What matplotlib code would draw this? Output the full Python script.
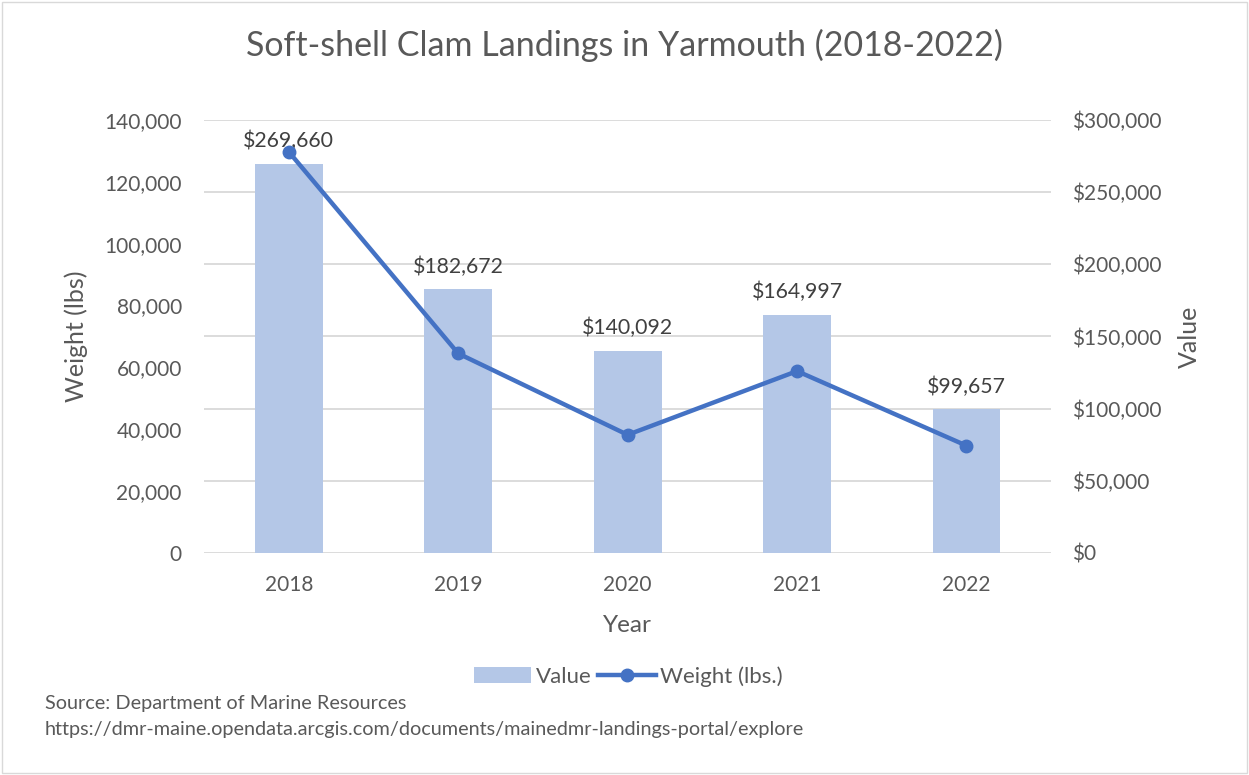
import numpy as np
import matplotlib.pyplot as plt
from matplotlib.patches import Rectangle
from matplotlib.ticker import FuncFormatter

# Data
years = ['2018', '2019', '2020', '2021', '2022']
value_usd = [269660, 182672, 140092, 164997, 99657]
weight_lbs = [129700, 64500, 38200, 58800, 34700]

plt.rcParams['font.family'] = ['Lato', 'DejaVu Sans']
txt = '#595959'
grid = '#d9d9d9'
bar_col = '#b4c7e7'
line_col = '#4472c4'

fig = plt.figure(figsize=(12.49, 7.75), dpi=100)
ax = fig.add_axes([0.1634, 0.2865, 0.6782, 0.5587])
ax2 = ax.twinx()

x = np.arange(len(years))

# bars on the right (value) axis, line on the left (weight) axis
ax2.bar(x, value_usd, width=0.4, color=bar_col, zorder=1)
for xi, v in zip(x, value_usd):
    ax2.annotate(f'${v:,}', (xi, v), xytext=(0, 9), textcoords='offset points',
                 ha='center', va='bottom', fontsize=15.3, color='#404040')

ax.plot(x, weight_lbs, color=line_col, lw=3.2, marker='o', ms=9, zorder=3)
ax.set_zorder(ax2.get_zorder() + 1)
ax.patch.set_visible(False)

ax.set_xlim(-0.5, 4.5)
ax.set_ylim(0, 140000)
ax.set_yticks(np.arange(0, 140001, 20000))
ax.yaxis.set_major_formatter(FuncFormatter(lambda v, p: f'{int(v):,}'))
ax2.set_ylim(0, 300000)
ax2.set_yticks(np.arange(0, 300001, 50000))
ax2.yaxis.set_major_formatter(FuncFormatter(lambda v, p: f'${int(v):,}'))

ax.set_xticks(x)
ax.set_xticklabels(years)

for a in (ax, ax2):
    for s in a.spines.values():
        s.set_visible(False)
    a.tick_params(length=0, labelsize=15, labelcolor=txt)
ax.tick_params(axis='y', pad=16)
ax2.tick_params(axis='y', pad=15)
ax.tick_params(axis='x', pad=16)

ax2.grid(axis='y', color=grid, lw=1.3)
ax2.set_axisbelow(True)

ax.set_xlabel('Year', fontsize=17.5, color=txt, labelpad=14)
ax.set_ylabel('Weight (lbs)', fontsize=18, color=txt, labelpad=12)
ax2.set_ylabel('Value', fontsize=18, color=txt, labelpad=12)

fig.text(0.5, 0.941, 'Soft-shell Clam Landings in Yarmouth (2018-2022)',
         ha='center', va='center', fontsize=24.5, color=txt)

h1 = ax2.patches[0]
h2 = ax.lines[0]
fig.legend([h1, h2], ['Value', 'Weight (lbs.)'], loc='center',
           bbox_to_anchor=(0.503, 0.127), ncol=2, frameon=False,
           fontsize=16, labelcolor=txt, handlelength=2.6, handletextpad=0.2,
           columnspacing=0.3)

fig.text(0.036, 0.092, 'Source: Department of Marine Resources',
         fontsize=14.3, color=txt, va='center')
fig.text(0.036, 0.059,
         'https://dmr-maine.opendata.arcgis.com/documents/mainedmr-landings-portal/explore',
         fontsize=14.3, color=txt, va='center')

fig.patches.append(Rectangle((0.002, 0.002), 0.996, 0.996, transform=fig.transFigure,
                             fill=False, ec='#d9d9d9', lw=1))

fig.savefig('out.png', dpi=100)
